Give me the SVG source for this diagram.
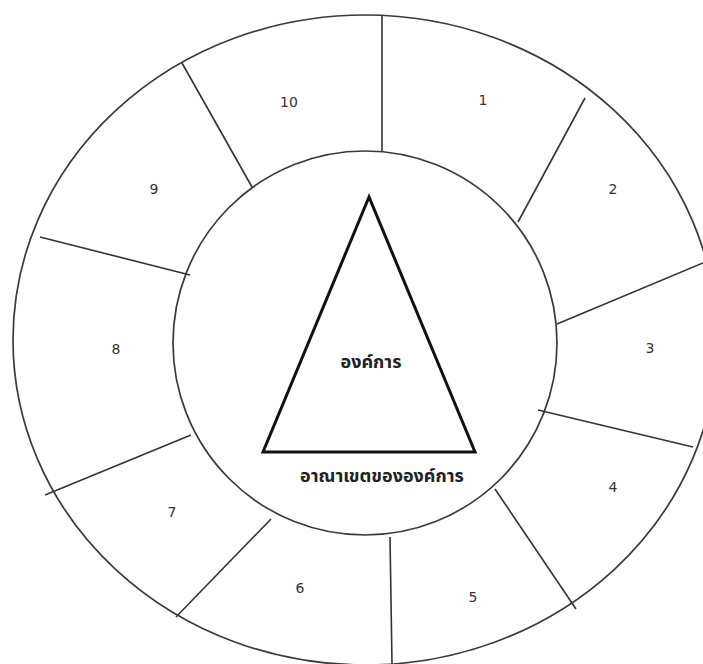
<svg xmlns="http://www.w3.org/2000/svg" width="703" height="664" viewBox="0 0 703 664">
<style>
.ring{fill:none;stroke:#3a3a3a;stroke-width:1.7}
.div{stroke:#333;stroke-width:1.6;fill:none}
.num{font-family:"DejaVu Sans","Liberation Sans",sans-serif;font-size:14px;fill:#333;text-anchor:middle}
.th{font-family:"Noto Sans Thai","Tahoma","Noto Sans","DejaVu Sans",sans-serif;font-size:18px;font-weight:bold;fill:#222;text-anchor:middle}
</style>
<rect width="703" height="664" fill="#fff"/>
<g id="outer-ring"><ellipse class="ring" cx="365" cy="340" rx="352" ry="325"/></g>
<g id="inner-circle"><circle class="ring" cx="365" cy="343" r="192"/></g>
<g id="dividers">
<line class="div" x1="382" y1="15" x2="382" y2="151"/>
<line class="div" x1="585" y1="98" x2="518" y2="222"/>
<line class="div" x1="557" y1="324" x2="703" y2="263"/>
<line class="div" x1="538" y1="410" x2="693" y2="447"/>
<line class="div" x1="495" y1="489" x2="576" y2="609"/>
<line class="div" x1="390" y1="537" x2="392" y2="664"/>
<line class="div" x1="271" y1="519" x2="176" y2="617"/>
<line class="div" x1="191" y1="435" x2="45" y2="495"/>
<line class="div" x1="190" y1="275" x2="40" y2="237"/>
<line class="div" x1="182" y1="63" x2="252" y2="187"/>
</g>
<g id="segment-labels">
<text class="num" x="483" y="105">1</text>
<text class="num" x="613" y="194">2</text>
<text class="num" x="650" y="353">3</text>
<text class="num" x="613" y="492">4</text>
<text class="num" x="473" y="602">5</text>
<text class="num" x="300" y="593">6</text>
<text class="num" x="172" y="517">7</text>
<text class="num" x="116" y="354">8</text>
<text class="num" x="154" y="194">9</text>
<text class="num" x="289" y="107">10</text>
</g>
<g id="organization">
<polygon points="369,197 263,452 475,452" fill="none" stroke="#111" stroke-width="3" stroke-linejoin="miter"/>
<text class="th" x="371" y="368">องค์การ</text>
</g>
<g id="domain-label"><text class="th" x="382" y="482">อาณาเขตขององค์การ</text></g>
</svg>
